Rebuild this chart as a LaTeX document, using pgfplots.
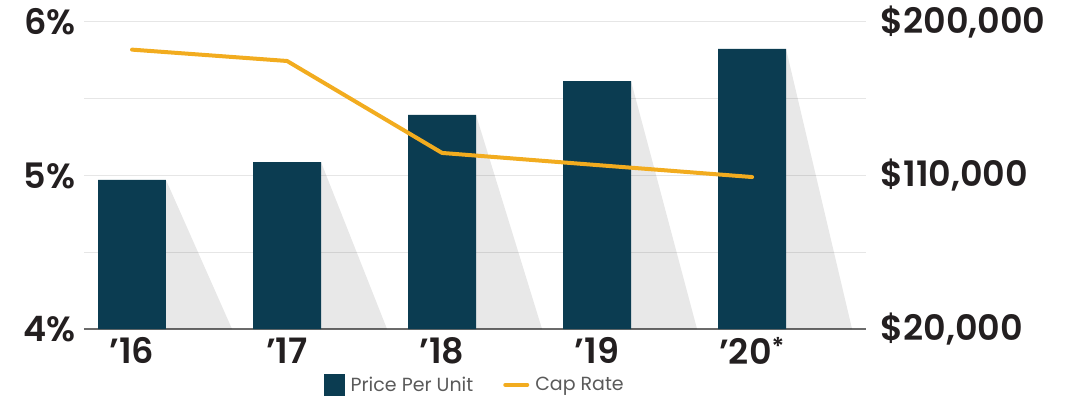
\documentclass[border=0pt]{standalone}
\usepackage{pgfplots}
\pgfplotsset{compat=1.18}
\usepackage{fontspec}
\setmainfont{Poppins}[BoldFont={Poppins SemiBold}]
\usetikzlibrary{calc}
\definecolor{barc}{HTML}{0B3C51}
\definecolor{linec}{HTML}{F2AC1F}
\definecolor{txt}{HTML}{231F20}
\definecolor{gridc}{HTML}{E6E6E6}
\definecolor{axc}{HTML}{6B6B6B}
\definecolor{legc}{HTML}{5A5A5A}
\begin{document}
\begin{tikzpicture}
\pgfplotsset{base/.style={scale only axis, width=782pt, height=307pt,
  xmin=-0.31, xmax=4.735, xtick={0,1,2,3,4}, major tick length=0pt,
  scaled ticks=false,
  tick label style={font=\fontsize{35}{35}\selectfont\bfseries, text=txt}}}
\begin{axis}[base, name=ax, ymin=20000, ymax=200000,
  axis y line*=right, axis x line*=bottom,
  y axis line style={draw=none},
  x axis line style={draw=axc, line width=1.5pt, -},
  ytick={20000,65000,110000,155000,200000},
  yticklabels={{\$20,000},,{\$110,000},,{\$200,000}},
  ymajorgrids, grid style={gridc, line width=1pt},
  xticklabels={’16,’17,’18,’19,’20\textsuperscript{*}},
  xticklabel style={yshift=-5pt},
  yticklabel style={xshift=11pt}]
% shadows
\addplot[fill=black, fill opacity=0.09, draw=none] coordinates {(0.219,107400) (0.645,20000) (0.219,20000)};
\addplot[fill=black, fill opacity=0.09, draw=none] coordinates {(1.219,117900) (1.645,20000) (1.219,20000)};
\addplot[fill=black, fill opacity=0.09, draw=none] coordinates {(2.219,145500) (2.645,20000) (2.219,20000)};
\addplot[fill=black, fill opacity=0.09, draw=none] coordinates {(3.219,165400) (3.645,20000) (3.219,20000)};
\addplot[fill=black, fill opacity=0.09, draw=none] coordinates {(4.219,184200) (4.645,20000) (4.219,20000)};
% bars
\addplot[ybar, bar width=0.438, fill=barc, draw=none] coordinates {(0,107400) (1,117900) (2,145500) (3,165400) (4,184200)};
\end{axis}
\begin{axis}[base, ymin=4, ymax=6,
  axis y line*=left, axis x line=none,
  y axis line style={draw=none},
  ytick={4,5,6}, yticklabels={4\%,5\%,6\%},
  xticklabels={},
  yticklabel style={xshift=-5pt},
  legend columns=2,
  legend style={at={(0.5,-0.138)}, anchor=north, draw=none, fill=none,
    font=\fontsize{19}{19}\selectfont, text=legc,
    /tikz/every odd column/.append style={column sep=4pt},
    /tikz/every even column/.append style={column sep=28pt}}]
\addlegendimage{legend image code/.code={\fill[barc] (0pt,-10pt) rectangle (20pt,11pt);}}
\addlegendentry{Price Per Unit}
\addplot[linec, line width=4pt, line cap=round, line join=round,
  legend image code/.code={\draw[linec, line width=4pt, line cap=round] (0pt,0pt) -- (22pt,0pt);}]
  coordinates {(0,5.82) (1,5.746) (2,5.147) (3,5.068) (4,4.99)};
\addlegendentry{Cap Rate}
\end{axis}
\pgfresetboundingbox
\path[use as bounding box] ($(ax.south west)+(-84pt,-68pt)$) rectangle ($(ax.north east)+(211pt,22pt)$);
\end{tikzpicture}
\end{document}
